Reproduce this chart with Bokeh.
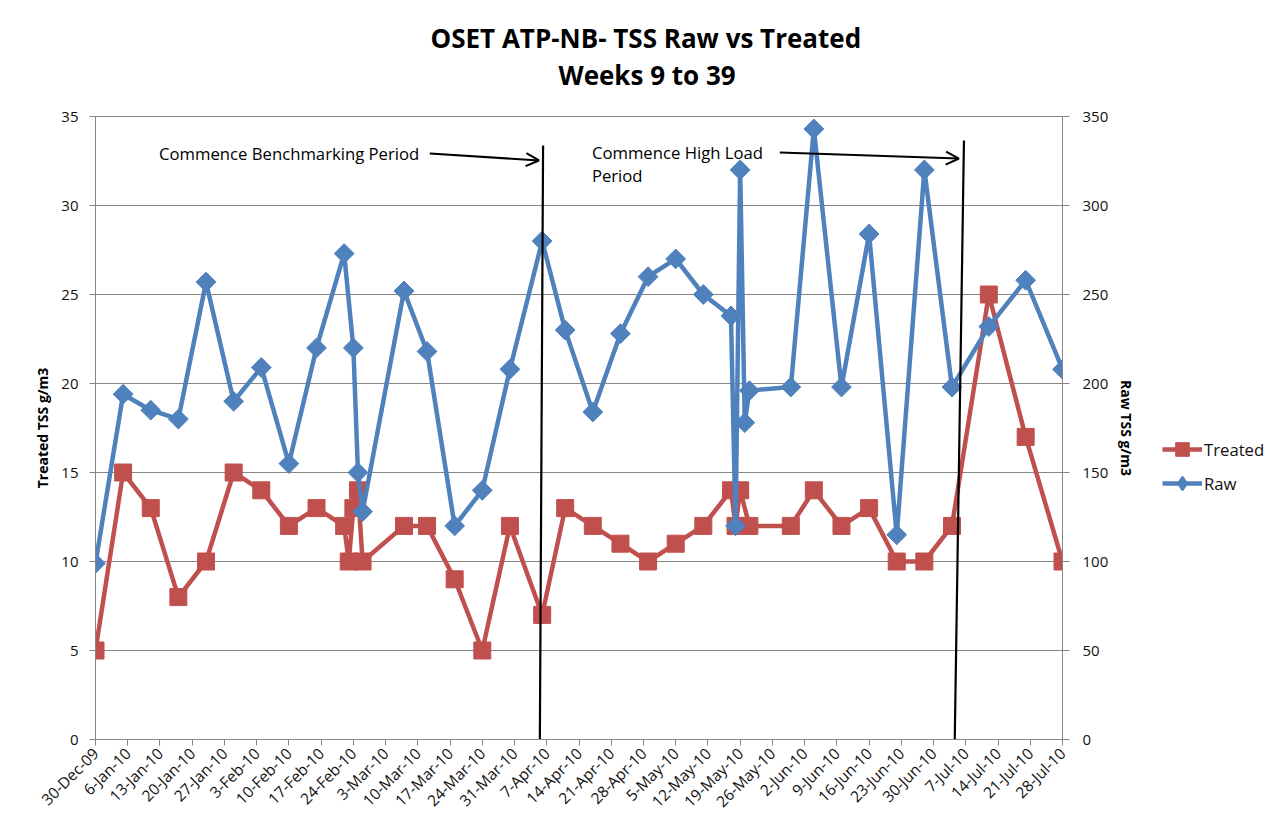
import numpy as np
import pandas as pd
from bokeh.plotting import figure
from bokeh.layouts import row
from bokeh.models import (Range1d, LinearAxis, FixedTicker, Legend, LegendItem,
                          Label, Arrow, OpenHead, Title)
from bokeh.embed import file_html
from bokeh.resources import INLINE

# ---------------- data ----------------
start_date = "2009-12-30"
tick_labels = ["30-Dec-09", "6-Jan-10", "13-Jan-10", "20-Jan-10", "27-Jan-10", "3-Feb-10",
               "10-Feb-10", "17-Feb-10", "24-Feb-10", "3-Mar-10", "10-Mar-10", "17-Mar-10",
               "24-Mar-10", "31-Mar-10", "7-Apr-10", "14-Apr-10", "21-Apr-10", "28-Apr-10",
               "5-May-10", "12-May-10", "19-May-10", "26-May-10", "2-Jun-10", "9-Jun-10",
               "16-Jun-10", "23-Jun-10", "30-Jun-10", "7-Jul-10", "14-Jul-10", "21-Jul-10",
               "28-Jul-10"]

treated_dates = ["2009-12-30", "2010-01-05", "2010-01-11", "2010-01-17", "2010-01-23",
                 "2010-01-29", "2010-02-04", "2010-02-10", "2010-02-16", "2010-02-22",
                 "2010-02-23", "2010-02-24", "2010-02-25", "2010-02-26", "2010-03-07",
                 "2010-03-12", "2010-03-18", "2010-03-24", "2010-03-30", "2010-04-06",
                 "2010-04-11", "2010-04-17", "2010-04-23", "2010-04-29", "2010-05-05",
                 "2010-05-11", "2010-05-17", "2010-05-18", "2010-05-19", "2010-05-21",
                 "2010-05-30", "2010-06-04", "2010-06-10", "2010-06-16", "2010-06-22",
                 "2010-06-28", "2010-07-04", "2010-07-12", "2010-07-20", "2010-07-28"]
treated_values = [5, 15, 13, 8, 10, 15, 14, 12, 13, 12,
                  10, 13, 14, 10, 12, 12, 9, 5, 12, 7,
                  13, 12, 11, 10, 11, 12, 14, 12, 14, 12,
                  12, 14, 12, 13, 10, 10, 12, 25, 17, 10]

raw_dates = ["2009-12-30", "2010-01-05", "2010-01-11", "2010-01-17", "2010-01-23",
             "2010-01-29", "2010-02-04", "2010-02-10", "2010-02-16", "2010-02-22",
             "2010-02-24", "2010-02-25", "2010-02-26", "2010-03-07", "2010-03-12",
             "2010-03-18", "2010-03-24", "2010-03-30", "2010-04-06", "2010-04-11",
             "2010-04-17", "2010-04-23", "2010-04-29", "2010-05-05", "2010-05-11",
             "2010-05-17", "2010-05-18", "2010-05-19", "2010-05-20", "2010-05-21",
             "2010-05-30", "2010-06-04", "2010-06-10", "2010-06-16", "2010-06-22",
             "2010-06-28", "2010-07-04", "2010-07-12", "2010-07-20", "2010-07-28"]
raw_values = [99, 194, 185, 180, 257, 190, 209, 155, 220, 273,
              220, 150, 128, 252, 218, 120, 140, 208, 280, 230,
              184, 228, 260, 270, 250, 238, 120, 320, 178, 196,
              198, 343, 198, 284, 115, 320, 198, 232, 258, 208]

series_names = ["Treated", "Raw"]

# ---------------- helpers ----------------
t0 = pd.Timestamp(start_date)
def days(ds):
    return [(pd.Timestamp(d) - t0).days for d in ds]

tx = days(treated_dates)
rx = days(raw_dates)
tick_days = [7 * i for i in range(len(tick_labels))]

RED = "#C0504D"
BLUE = "#4F81BD"
GRID = "#868686"
FONT = "Open Sans"

p = figure(width=1150, height=828, output_backend="svg", toolbar_location=None,
           x_range=Range1d(0, tick_days[-1]), y_range=Range1d(0, 35),
           min_border_left=95, min_border_right=88, min_border_top=116, min_border_bottom=89,
           background_fill_color="white", border_fill_color="white")
p.extra_y_ranges = {"raw": Range1d(0, 350)}
p.outline_line_color = GRID
p.outline_line_width = 1

# axes
p.xaxis.ticker = FixedTicker(ticks=tick_days)
p.xaxis.major_label_overrides = {d: lab for d, lab in zip(tick_days, tick_labels)}
p.xaxis.major_label_orientation = np.pi / 4
p.yaxis.ticker = FixedTicker(ticks=list(range(0, 36, 5)))
p.yaxis.axis_label = "Treated TSS g/m3"

right_axis = LinearAxis(y_range_name="raw", axis_label="Raw TSS g/m3",
                        ticker=FixedTicker(ticks=list(range(0, 351, 50))))
p.add_layout(right_axis, "right")

for ax in [p.xaxis[0], p.yaxis[0], right_axis]:
    ax.axis_line_color = GRID
    ax.major_tick_line_color = GRID
    ax.minor_tick_line_color = None
    ax.major_tick_in = 0
    ax.major_tick_out = 6
    ax.major_label_text_font = FONT
    ax.major_label_text_font_size = "15px"
    ax.major_label_text_color = "#111111"
    ax.axis_label_text_font = FONT
    ax.axis_label_text_font_size = "14px"
    ax.axis_label_text_font_style = "bold"
    ax.axis_label_text_color = "black"
p.xaxis.major_label_text_font_size = "15.5px"
p.yaxis[0].major_label_standoff = 11
p.yaxis[0].axis_label_standoff = 6
right_axis.major_tick_out = 7
right_axis.major_label_standoff = 13
right_axis.axis_label_standoff = 6

p.xgrid.grid_line_color = None
p.ygrid.grid_line_color = GRID
p.ygrid.grid_line_width = 1

# series
LINE_W = 4.5
p.line(tx, treated_values, line_color=RED, line_width=LINE_W)
p.scatter(tx, treated_values, marker="square", size=17, fill_color=RED,
          line_color=RED, line_width=1)
p.line(rx, raw_values, line_color=BLUE, line_width=LINE_W, y_range_name="raw")
p.scatter(rx, raw_values, marker="square", angle=np.pi / 4, size=14,
          fill_color=BLUE, line_color=BLUE, line_width=1, y_range_name="raw")

# annotations (period markers)
p.segment(x0=[97.2, 188.6], y0=[33.37, 33.65], x1=[96.5, 186.6], y1=[0, 0],
          line_color="black", line_width=2.2)
p.add_layout(Arrow(end=OpenHead(size=13, line_width=2, line_color="black"),
                   x_start=72.6, y_start=32.92, x_end=96.3, y_end=32.53,
                   line_width=2, line_color="black"))
p.add_layout(Arrow(end=OpenHead(size=13, line_width=2, line_color="black"),
                   x_start=148.6, y_start=32.98, x_end=187.5, y_end=32.64,
                   line_width=2, line_color="black"))
for txt, x, y in [("Commence Benchmarking Period", 13.8, 32.92),
                  ("Commence High Load", 107.8, 32.98),
                  ("Period", 107.8, 31.69)]:
    p.add_layout(Label(x=x, y=y, text=txt, text_font=FONT, text_font_size="16.7px",
                       text_baseline="middle", text_align="left", text_color="black"))

# title (two lines, bottom line added first)
p.add_layout(Title(text="Weeks 9 to 39", align="left", offset=463, standoff=48,
                   text_font=FONT, text_font_size="26px", text_font_style="bold",
                   text_color="black"), "above")
p.add_layout(Title(text="OSET ATP-NB- TSS Raw vs Treated", align="left", offset=335,
                   standoff=-50, text_font=FONT, text_font_size="26px",
                   text_font_style="bold", text_color="black"), "above")

# ---------------- legend panel ----------------
q = figure(width=129, height=828, output_backend="svg", toolbar_location=None,
           x_range=Range1d(0, 1), y_range=Range1d(0, 1),
           x_axis_location=None, y_axis_location=None, min_border=0,
           background_fill_color="white", border_fill_color="white")
q.outline_line_color = None
q.grid.visible = False
# off-screen proxies: they only lend their style to the legend
lg_t_line = q.line([-5, -4], [-5, -5], line_color=RED, line_width=LINE_W)
lg_t_mark = q.scatter([-5], [-5], marker="square", size=17, fill_color=RED, line_color=RED)
lg_r_line = q.line([-5, -4], [-5, -5], line_color=BLUE, line_width=LINE_W)
lg_r_mark = q.scatter([-5], [-5], marker="diamond", size=20,
                      fill_color=BLUE, line_color=BLUE, line_width=2)
legend = Legend(items=[LegendItem(label=series_names[0], renderers=[lg_t_line, lg_t_mark]),
                       LegendItem(label=series_names[1], renderers=[lg_r_line, lg_r_mark])],
                location=(12, 239), glyph_width=40, glyph_height=34, spacing=0,
                label_standoff=2, padding=5, margin=0, border_line_color=None,
                background_fill_alpha=0, label_text_font=FONT,
                label_text_font_size="16.7px", label_text_color="#111111")
q.add_layout(legend, "center")

open("out.html", "w").write(file_html(row(p, q, spacing=0), INLINE))
